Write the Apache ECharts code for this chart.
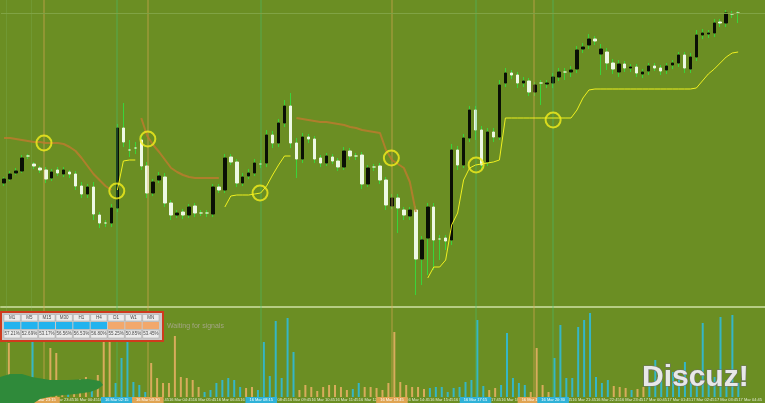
<!DOCTYPE html>
<html><head><meta charset="utf-8">
<script src="https://cdn.jsdelivr.net/npm/echarts@6/dist/echarts.min.js"></script>
<style>html,body{margin:0;padding:0;background:#6b8e23;overflow:hidden}#c{width:765px;height:403px}</style>
</head><body><div id="c"></div>
<script>
// ---- data: candles [open, close, low, high] (arbitrary price units) ----
const ohlc = [
[137,141,134,143],[141,146,139,149],[147,149,145,152],[149,162,147,165],[164,164,161,166],
[156,154,151,158],[152,150,147,154],[150,141,137,153],[142,148,139,151],[150,147,144,153],
[146,150,143,153],[148,146,142,150],[146,134,130,149],[134,126,122,138],[126,133,122,136],
[133,106,100,138],[105,97,92,108],[97,97,93,100],[97,112,93,116],[112,192,108,196],
[192,178,173,217],[170,170,163,180],[172,172,166,178],[180,154,150,186],[154,127,122,158],
[127,138,124,141],[140,144,137,148],[143,117,113,147],[117,105,100,120],[105,107,102,110],
[108,105,101,111],[105,113,102,116],[114,107,103,117],[107,107,104,110],[107,107,103,110],
[106,133,103,136],[133,130,127,136],[130,162,127,166],[163,158,155,166],[158,137,133,161],
[137,143,134,147],[144,147,141,151],[147,157,144,161],[156,156,152,160],[157,185,153,190],
[185,177,172,189],[177,197,173,201],[197,214,193,220],[214,177,172,227],[177,161,142,182],
[161,183,157,187],[183,181,177,186],[181,161,157,184],[162,157,153,165],[157,164,154,167],
[163,159,156,166],[159,153,149,162],[153,169,150,173],[169,164,160,172],[164,164,160,167],
[165,136,131,168],[136,152,133,155],[153,153,149,156],[154,140,136,157],[140,115,110,143],
[114,122,111,126],[122,112,87,126],[110,105,100,113],[104,110,100,113],[110,61,25,114],
[61,80,35,84],[82,113,45,117],[113,80,50,117],[81,81,60,85],[82,79,70,85],
[80,170,75,176],[170,155,150,174],[155,182,152,186],[182,210,178,214],[210,190,180,214],
[190,155,150,194],[158,188,154,192],[188,183,178,192],[183,235,180,240],[237,247,233,252],
[247,245,241,250],[245,237,232,248],[237,239,233,243],[239,228,224,242],[228,235,224,238],
[237,237,215,240],[236,237,232,240],[237,243,232,247],[243,248,239,252],[248,248,240,252],
[248,250,243,254],[251,270,247,274],[271,273,267,277],[275,281,271,286],[281,279,275,284],
[266,271,245,276],[268,257,250,272],[257,251,246,261],[248,256,243,260],[256,252,248,259],
[252,253,248,256],[253,247,243,256],[246,248,242,251],[249,254,245,257],[254,252,249,257],
[252,249,245,255],[250,254,246,257],[255,257,251,260],[257,265,253,268],[265,252,247,268],
[251,263,247,267],[263,285,259,290],[285,287,281,291],[286,287,282,290],[287,297,283,301],
[298,297,293,301],[297,307,293,310],[306,306,302,309],[307,307,297,309]
];

// trailing stop lines (segments: starting candle index + values)
const orangeSegments = [
  {from: 0,  values: [182,182,181,180,179,178,178,177,177,177,176,173,169,162,154,146,140,134,130]},
  {from: 23, values: [202,184,175,168,160,152,148,145,143,142,142,142,142,142]},
  {from: 49, values: [202,201,200,199,198,198,197,196,195,193,192,190,189,188,187,170,160,156,152,138,108]}
];
const yellowSegments = [
  {from: 19, values: [130,159,160,160]},
  {from: 37, values: [113,124,125,125,125,126,127,134,145,155,164,164]},
  {from: 71, values: [42,53,53,60,95,107,140,152,155,156,157,158,160,
    202,202,202,202,202,202,202,202,202,202,202,202,
    210,222,230,
    231,231,231,231,231,231,231,231,231,231,231,231,231,231,231,231,231,
    232,239,246,251,257,263,267,268]}
];

// signal circles: [candle position, price]
const signalCircles = [[6.7,177],[18.9,129],[24.1,181],[42.9,127],[64.9,162],[79.1,155],[92.0,200]];
// signal separators: candle position and side
const signalBars = [
  {at: 6.7, side: 'sell'}, {at: 18.9, side: 'buy'}, {at: 24.1, side: 'sell'}, {at: 43.1, side: 'buy'},
  {at: 65.0, side: 'sell'}, {at: 79.0, side: 'buy'}, {at: 88.7, side: 'sell'}, {at: 92.0, side: 'buy'}
];

// volumes and their colour key (c = cyan, t = tan)
const volumes = [
 54,15,12,20,65,14,10,49,44,16, 13,12,18,20,15,22,64,65,14,39,
 60,15,12,5,34,19,14,14,61,20, 19,17,10,5,7,14,17,19,17,10,
 9,10,7,55,21,76,19,79,45,7, 12,10,6,10,12,12,10,7,8,14,
 10,10,9,7,14,65,15,12,10,10, 8,9,10,10,5,9,10,15,17,77,
 11,7,9,12,64,19,14,12,5,49, 12,5,39,72,19,19,70,77,84,20,
 14,17,11,10,9,7,8,10,12,37, 17,24,25,20,35,20,12,74,17,20,
 80,17,82,14];
const volumeSide = ('ttcccttttt'+'ctttctttcc'+'cccctttttt'+'tttccccccc'+'ttccccccct'+
  'ttttttttcc'+'tttttttttt'+'tccccccccc'+'cttccccctt'+'ttcccccccc'+'cctttcttcc'+'cccccccccc'+'cccc').split('');

// timeframe table
const tfLabels = ['M1','M5','M15','M30','H1','H4','D1','W1','MN'];
const tfSide = ['up','up','up','up','up','up','down','down','down'];
const tfValues = ['57.21%','52.69%','53.17%','56.56%','56.53%','56.80%','55.25%','50.85%','53.45%'];

// time categories (15-minute candles, plus 4 empty future slots)
const SLOTS = ohlc.length + 4;
const months = ['Jan','Feb','Mar','Apr','May','Jun','Jul','Aug','Sep','Oct','Nov','Dec'];
const startTime = Date.UTC(2016, 2, 15, 21, 30);
const pad = n => (n < 10 ? '0' : '') + n;
const times = [];
for (let i = 0; i < SLOTS; i++) {
  const d = new Date(startTime + i * 15 * 60000);
  times.push(d.getUTCDate() + ' ' + months[d.getUTCMonth()] + ' ' + pad(d.getUTCHours()) + ':' + pad(d.getUTCMinutes()));
}

function place(segs) {
  const a = new Array(ohlc.length).fill(null);
  segs.forEach(s => s.values.forEach((v, k) => { a[s.from + k] = v; }));
  return a;
}

const WICK = '#3ad43a', BULL = '#0a0f05', BEAR = '#eef9e4';
const CYAN = '#35b6c6', TAN = '#d8ac5c';
const lastClose = ohlc[ohlc.length - 1][1];

const chart = echarts.init(document.getElementById('c'), null, {renderer: 'canvas'});

const graphics = [];
// table
graphics.push({type: 'rect', z: 100, shape: {x: 1, y: 312, width: 162, height: 29},
  style: {fill: '#c8c8c8', stroke: '#cf3b1d', lineWidth: 2}});
const colW = 156 / tfLabels.length;
tfLabels.forEach((lab, k) => {
  const x = 4 + k * colW;
  graphics.push({type: 'rect', z: 101, shape: {x: x, y: 314.5, width: colW - 1, height: 6.5},
    style: {fill: '#ececec', stroke: '#a5a5a5', lineWidth: 0.5}});
  graphics.push({type: 'text', z: 102, x: x + colW / 2 - 0.5, y: 318,
    style: {text: lab, fill: '#4a4a4a', font: '4.5px "Liberation Sans"', align: 'center', verticalAlign: 'middle'}});
  graphics.push({type: 'rect', z: 101, shape: {x: x, y: 322, width: colW - 1, height: 7},
    style: {fill: tfSide[k] === 'up' ? '#22b3ee' : '#f2a86c'}});
  graphics.push({type: 'rect', z: 101, shape: {x: x, y: 330, width: colW - 1, height: 8},
    style: {fill: '#ececec', stroke: '#a5a5a5', lineWidth: 0.5}});
  graphics.push({type: 'text', z: 102, x: x + colW / 2 - 0.5, y: 334,
    style: {text: tfValues[k], fill: '#4a4a4a', font: '4.5px "Liberation Sans"', align: 'center', verticalAlign: 'middle'}});
});
graphics.push({type: 'text', z: 100, x: 167, y: 326,
  style: {text: 'Waiting for signals', fill: '#a3a584', font: '7px "Liberation Sans"', verticalAlign: 'middle'}});
// dark green blob at bottom-left
graphics.push({type: 'polygon', z: 100, shape: {points: [[0,377],[10,374],[22,374],[32,377],[50,380],[68,380],[88,379],[100,381],[103,385],[98,389],[90,392],[76,394],[54,396],[40,399],[34,403],[0,403]]},
  style: {fill: '#2f8a3a'}});
// watermark
graphics.push({type: 'text', z: 110, x: 642, y: 378,
  style: {text: 'Discuz!', fill: '#e8e8e8', stroke: '#6f6f6f', lineWidth: 1.2,
    font: 'bold 30px "Liberation Sans"', verticalAlign: 'middle',
    shadowColor: 'rgba(0,0,0,0.45)', shadowBlur: 2, shadowOffsetX: 1, shadowOffsetY: 1}});

const option = {
  animation: false,
  backgroundColor: '#6b8e23',
  grid: [
    {left: 1, right: 0, top: 0, height: 307},
    {left: 1, right: 0, top: 310, height: 87},
    {left: 1, right: 0, top: 0, height: 397}
  ],
  xAxis: [
    {type: 'category', gridIndex: 0, data: times,
      axisLine: {show: true, onZero: false, lineStyle: {color: '#b6cc84', width: 2}},
      axisTick: {show: false}, axisLabel: {show: false}, splitLine: {show: false}},
    {type: 'category', gridIndex: 1, data: times,
      axisLine: {show: false}, axisTick: {show: false}, splitLine: {show: false},
      axisLabel: {interval: (i) => i % 4 === 1, fontSize: 4, color: '#e4ead6', margin: 1, fontFamily: 'Liberation Sans'}},
    {type: 'value', gridIndex: 0, min: -0.5, max: SLOTS - 0.5, show: false},
    {type: 'value', gridIndex: 2, min: -0.5, max: SLOTS - 0.5, show: false}
  ],
  yAxis: [
    {type: 'value', gridIndex: 0, min: 13, max: 320, show: false},
    {type: 'value', gridIndex: 1, min: 0, max: 87, show: false},
    {type: 'value', gridIndex: 2, min: 0, max: 1, show: false}
  ],
  graphic: graphics,
  series: [
    {type: 'line', xAxisIndex: 3, yAxisIndex: 2, data: [[-0.5, 0]], symbol: 'none', lineStyle: {opacity: 0}, z: 1, silent: true,
      markLine: {silent: true, symbol: ['none', 'none'],
        data: [
          {xAxis: 0.3, lineStyle: {color: 'rgba(130,190,110,0.22)', width: 1, type: 'solid'}, label: {show: false}},
          {xAxis: 4.5, lineStyle: {color: 'rgba(130,190,110,0.22)', width: 1, type: 'solid'}, label: {show: false}}
        ].concat(signalBars.map(s => ({
          xAxis: s.at,
          lineStyle: {color: s.side === 'sell' ? 'rgba(214,166,84,0.35)' : 'rgba(70,190,110,0.3)', width: 2, type: 'solid'},
          label: {show: true, position: 'start', distance: 0, formatter: times[Math.round(s.at)],
            fontSize: 4, color: '#ffffff', fontFamily: 'Liberation Sans',
            backgroundColor: s.side === 'sell' ? '#e0a452' : '#2fb2d8', padding: [1, 4]}
        })))
      }},
    {type: 'bar', xAxisIndex: 1, yAxisIndex: 1, barWidth: 2, z: 2,
      data: volumes.map((v, i) => ({value: v, itemStyle: {color: volumeSide[i] === 'c' ? CYAN : TAN}}))},
    {type: 'candlestick', xAxisIndex: 0, yAxisIndex: 0, data: ohlc, barWidth: 1, z: 3,
      itemStyle: {color: WICK, color0: WICK, borderColor: WICK, borderColor0: WICK, borderColorDoji: WICK, borderWidth: 1}},
    {type: 'candlestick', xAxisIndex: 0, yAxisIndex: 0, barWidth: 3, z: 4,
      data: ohlc.map(([o, c]) => [o, c, Math.min(o, c), Math.max(o, c)]),
      itemStyle: {color: BULL, color0: BEAR, borderColor: BULL, borderColor0: BEAR, borderColorDoji: '#d6f2c2', borderWidth: 1},
      markLine: {silent: true, symbol: ['none', 'none'], label: {show: false},
        lineStyle: {color: '#80a344', width: 1, type: 'solid'}, data: [{yAxis: lastClose}]}},
    {type: 'line', xAxisIndex: 0, yAxisIndex: 0, data: place(orangeSegments), showSymbol: false, symbol: 'none',
      connectNulls: false, z: 5, lineStyle: {color: '#c07a2e', width: 2, opacity: 0.8}},
    {type: 'line', xAxisIndex: 0, yAxisIndex: 0, data: place(yellowSegments), showSymbol: false, symbol: 'none',
      connectNulls: false, z: 5, lineStyle: {color: '#f0f020', width: 1}},
    {type: 'scatter', xAxisIndex: 2, yAxisIndex: 0, data: signalCircles, symbol: 'circle', symbolSize: 15, z: 6,
      itemStyle: {color: 'rgba(0,0,0,0)', borderColor: '#f5ef1c', borderWidth: 2}}
  ]
};
chart.setOption(option);
</script>
</body></html>
